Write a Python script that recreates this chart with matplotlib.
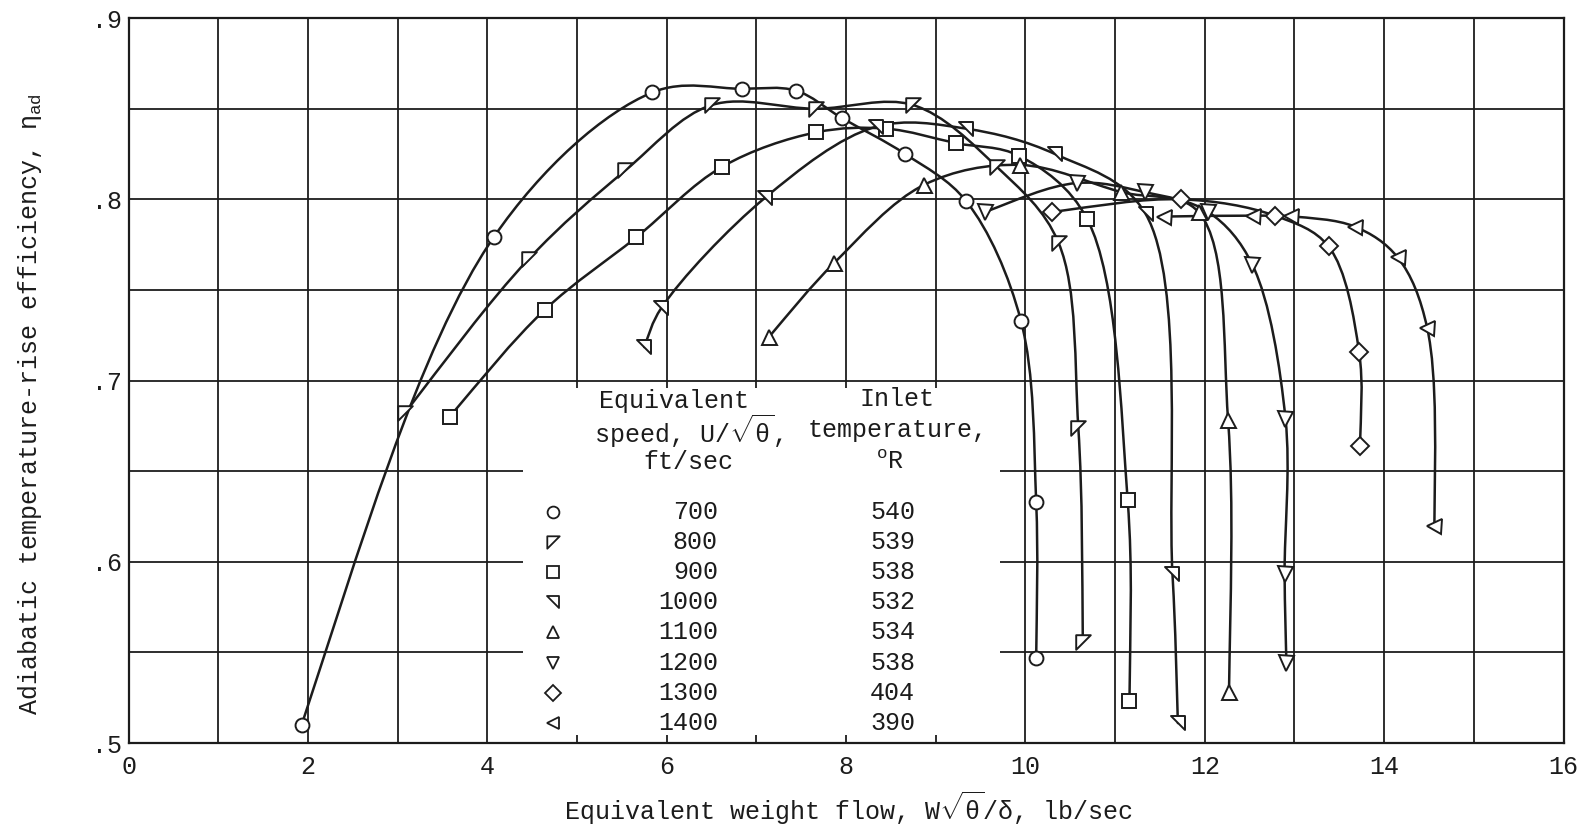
import numpy as np
import matplotlib
matplotlib.use("Agg")
import matplotlib.pyplot as plt
from matplotlib.path import Path
from matplotlib.patches import PathPatch

plt.rcParams['font.family'] = ['Liberation Mono', 'DejaVu Sans']
plt.rcParams['mathtext.fontset'] = 'custom'
plt.rcParams['mathtext.rm'] = 'Liberation Mono'
plt.rcParams['mathtext.it'] = 'Liberation Mono'
plt.rcParams['mathtext.bf'] = 'Liberation Mono:bold'

# ---------------- data ----------------
speeds = ["700", "800", "900", "1000", "1100", "1200", "1300", "1400"]
inlet_temps = ["540", "539", "538", "532", "534", "538", "404", "390"]

flow_700 = [1.93, 4.07, 5.84, 6.84, 7.44, 7.95, 8.66, 9.34, 9.95, 10.12, 10.12]
eff_700 = [0.510, 0.779, 0.859, 0.861, 0.860, 0.845, 0.825, 0.799, 0.733, 0.633, 0.547]

flow_800 = [3.08, 4.46, 5.54, 6.50, 7.66, 8.75, 9.68, 10.37, 10.59, 10.64]
eff_800 = [0.682, 0.767, 0.816, 0.852, 0.850, 0.852, 0.818, 0.776, 0.674, 0.556]

flow_900 = [3.58, 4.64, 5.66, 6.62, 7.67, 8.45, 9.23, 9.93, 10.69, 11.14, 11.16]
eff_900 = [0.680, 0.739, 0.779, 0.818, 0.837, 0.839, 0.831, 0.824, 0.789, 0.634, 0.523]

flow_1000 = [5.75, 5.94, 7.10, 8.33, 9.34, 10.33, 11.34, 11.64, 11.70]
eff_1000 = [0.7185, 0.740, 0.801, 0.840, 0.839, 0.825, 0.792, 0.593, 0.511]

flow_1100 = [7.14, 7.87, 8.87, 9.94, 11.07, 11.93, 12.26, 12.27]
eff_1100 = [0.724, 0.765, 0.808, 0.819, 0.804, 0.793, 0.678, 0.528]

flow_1200 = [9.55, 10.57, 11.33, 12.04, 12.53, 12.90, 12.89, 12.91]
eff_1200 = [0.793, 0.809, 0.804, 0.793, 0.764, 0.679, 0.593, 0.544]

flow_1300 = [10.30, 11.74, 12.78, 13.38, 13.72, 13.73]
eff_1300 = [0.793, 0.800, 0.791, 0.774, 0.716, 0.664]

flow_1400 = [11.55, 12.54, 12.96, 13.67, 14.15, 14.48, 14.56]
eff_1400 = [0.7905, 0.791, 0.7906, 0.785, 0.768, 0.729, 0.620]

x_ticks = [0, 2, 4, 6, 8, 10, 12, 14, 16]
x_ticklabels = ["0", "2", "4", "6", "8", "10", "12", "14", "16"]
y_ticks = [0.5, 0.6, 0.7, 0.8, 0.9]
y_ticklabels = [".5", ".6", ".7", ".8", ".9"]

# ---------------- styles ----------------
INK = "#1c1c1c"
FS = 18

tri_tl = Path([(-1, 1), (1, 1), (-1, -1), (-1, 1)],
              [Path.MOVETO, Path.LINETO, Path.LINETO, Path.CLOSEPOLY])
tri_tr = Path([(-1, 1), (1, 1), (1, -1), (-1, 1)],
              [Path.MOVETO, Path.LINETO, Path.LINETO, Path.CLOSEPOLY])

series = [
    (flow_700, eff_700, 'o', 10.0),
    (flow_800, eff_800, tri_tl, 10.5),
    (flow_900, eff_900, 's', 9.8),
    (flow_1000, eff_1000, tri_tr, 10.5),
    (flow_1100, eff_1100, '^', 10.8),
    (flow_1200, eff_1200, 'v', 10.8),
    (flow_1300, eff_1300, 'D', 9.5),
    (flow_1400, eff_1400, '<', 10.8),
]


def smooth_path(xs, ys, ysc=20.0):
    """Bezier path through the data points (centripetal Catmull-Rom)."""
    P = np.column_stack([np.asarray(xs, float), np.asarray(ys, float) * ysc])
    n = len(P)
    d = np.linalg.norm(np.diff(P, axis=0), axis=1)
    dt = np.sqrt(d)
    M = np.zeros_like(P)
    for i in range(1, n - 1):
        M[i] = ((P[i] - P[i - 1]) / dt[i - 1]
                - (P[i + 1] - P[i - 1]) / (dt[i - 1] + dt[i])
                + (P[i + 1] - P[i]) / dt[i])

    def end_tangent(p0, p1, m1, dseg, dtseg):
        u0 = (p1 - p0) / dseg
        if np.linalg.norm(m1) > 0:
            dir1 = m1 / np.linalg.norm(m1)
            e = 3 * u0 - dir1
            e = e / np.linalg.norm(e)
        else:
            e = u0
        pm = p0 - dseg * e
        return ((p0 - pm) / dtseg - (p1 - pm) / (2 * dtseg) + (p1 - p0) / dtseg)

    if n > 2:
        M[0] = end_tangent(P[0], P[1], M[1], d[0], dt[0])
        M[-1] = -end_tangent(P[-1], P[-2], -M[-2], d[-1], dt[-1])
    else:
        M[0] = (P[1] - P[0]) / dt[0]
        M[-1] = M[0]
    verts = [P[0]]
    codes = [Path.MOVETO]
    for i in range(n - 1):
        c1 = P[i] + M[i] * dt[i] / 3.0
        c2 = P[i + 1] - M[i + 1] * dt[i] / 3.0
        verts += [c1, c2, P[i + 1]]
        codes += [Path.CURVE4] * 3
    verts = np.array(verts)
    verts[:, 1] /= ysc
    return Path(verts, codes)


fig = plt.figure(figsize=(15.83, 8.24), dpi=100)
fig.patch.set_facecolor("white")
ax = fig.add_axes([0.0812, 0.0983, 0.9877 - 0.0812, 0.978 - 0.0983])
ax.set_xlim(0, 16)
ax.set_ylim(0.5, 0.9)

# grid (legend area left clear, as in the reference)
gkw = dict(color=INK, lw=1.3, zorder=1, solid_capstyle='butt')
for gx in range(1, 16):
    if 5 <= gx <= 9:
        ax.plot([gx, gx], [0.696, 0.9], **gkw)
        ax.plot([gx, gx], [0.5, 0.5045], **gkw)
    else:
        ax.plot([gx, gx], [0.5, 0.9], **gkw)
for gy in [0.55, 0.6, 0.65, 0.7, 0.75, 0.8, 0.85]:
    if gy < 0.69:
        ax.plot([0, 4.4], [gy, gy], **gkw)
        ax.plot([9.72, 16], [gy, gy], **gkw)
    else:
        ax.plot([0, 16], [gy, gy], **gkw)

# curves and markers
for xs, ys, mk, ms in series:
    ax.add_patch(PathPatch(smooth_path(xs, ys), fill=False, edgecolor=INK,
                           lw=1.8, zorder=3, capstyle='round', joinstyle='round'))
    ax.plot(xs, ys, linestyle='none', marker=mk, markersize=ms,
            markerfacecolor='white', markeredgecolor=INK, markeredgewidth=1.4,
            zorder=4)

# legend table drawn as text
leg_marker_x = 4.73
leg_speed_x = 6.57
leg_temp_x = 8.77
row0 = 0.6277
row_step = 0.01667
for i, (s, t) in enumerate(zip(speeds, inlet_temps)):
    yy = row0 - i * row_step
    mk, ms = series[i][2], series[i][3]
    ax.plot([leg_marker_x], [yy], linestyle='none', marker=mk, markersize=ms * 0.85,
            markerfacecolor='white', markeredgecolor=INK, markeredgewidth=1.3, zorder=4)
    ax.text(leg_speed_x, yy, s, ha='right', va='center', fontsize=FS, color=INK)
    ax.text(leg_temp_x, yy, t, ha='right', va='center', fontsize=FS, color=INK)

ax.text(6.08, 0.6886, "Equivalent", ha='center', va='center', fontsize=FS, color=INK)
ax.text(6.24, 0.6723, r"speed, U/$\sqrt{\theta}$,", ha='center', va='center',
        fontsize=FS, color=INK)
ax.text(6.24, 0.6553, "ft/sec", ha='center', va='center', fontsize=FS, color=INK)
ax.text(8.57, 0.6898, "Inlet", ha='center', va='center', fontsize=FS, color=INK)
ax.text(8.57, 0.6728, "temperature,", ha='center', va='center', fontsize=FS, color=INK)
ax.text(8.49, 0.6553, r"$^{\mathrm{o}}$R", ha='center', va='center', fontsize=FS,
        color=INK)

# axes styling
for sp in ax.spines.values():
    sp.set_color(INK)
    sp.set_linewidth(1.6)
ax.set_xticks(x_ticks)
ax.set_xticklabels(x_ticklabels)
ax.set_yticks(y_ticks)
ax.set_yticklabels(y_ticklabels)
ax.tick_params(axis='both', length=0, labelsize=FS, colors=INK)
ax.tick_params(axis='x', pad=8.5)
ax.tick_params(axis='y', pad=5)

fig.text(848 / 1583, 1 - 808 / 824,
         r"Equivalent weight flow, W$\sqrt{\theta}$/δ, lb/sec",
         ha='center', va='center', fontsize=FS, color=INK)
fig.text(30 / 1583, 1 - 404 / 824,
         r"Adiabatic temperature-rise efficiency, η$_{\mathrm{ad}}$",
         ha='center', va='center', rotation=90, fontsize=FS, color=INK)

fig.savefig("out.png", dpi=100, facecolor="white")
